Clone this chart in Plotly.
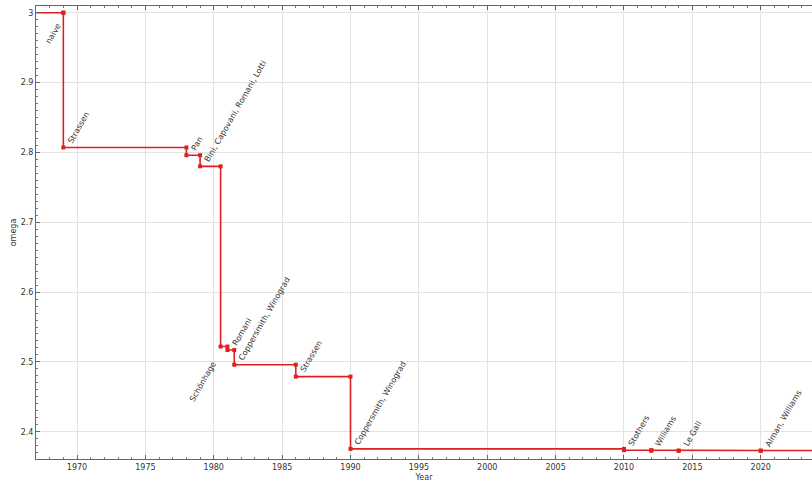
import plotly.graph_objects as go

# Best known upper bound on the matrix multiplication exponent, by year
authors = ["naive", "Strassen", "Pan", "Bini, Capovani, Romani, Lotti", "Schönhage",
           "Romani", "Coppersmith, Winograd", "Strassen", "Coppersmith, Winograd",
           "Stothers", "Williams", "Le Gall", "Alman, Williams"]
years = [1969, 1969, 1978, 1979, 1980.5, 1981, 1981.5, 1986, 1990, 2010, 2012, 2014, 2020]
omega = [3.0, 2.807, 2.796, 2.780, 2.522, 2.517, 2.496, 2.479, 2.3755, 2.3737,
         2.3729, 2.37286, 2.37286]

x_ticks = [1970, 1975, 1980, 1985, 1990, 1995, 2000, 2005, 2010, 2015, 2020]
y_ticks = [2.4, 2.5, 2.6, 2.7, 2.8, 2.9, 3.0]
y_ticklabels = ["2.4", "2.5", "2.6", "2.7", "2.8", "2.9", "3"]

X_RANGE = [1967, 2023.75]
Y_RANGE = [2.361, 3.0096]
RED = "#dd2020"

# step vertices: each improvement drops straight down from the previous bound
sx, sy = [years[0]], [omega[0]]
for i in range(1, len(years)):
    sx += [years[i], years[i]]
    sy += [omega[i - 1], omega[i]]

fig = go.Figure()
# flat extension of the curve to both plot edges
fig.add_trace(go.Scatter(
    x=[X_RANGE[0] - 5] + sx + [X_RANGE[1] + 5],
    y=[sy[0]] + sy + [sy[-1]],
    mode="lines", line=dict(color=RED, width=1.6), hoverinfo="skip"))
fig.add_trace(go.Scatter(
    x=sx, y=sy, mode="markers",
    marker=dict(color=RED, size=4, symbol="square"), hoverinfo="skip"))

ann_font = dict(family="DejaVu Sans", size=8, color="#333333")
for name, yr, om in zip(authors, years, omega):
    if name == "naive":
        fig.add_annotation(x=yr, y=om, text=name, showarrow=False, textangle=-60,
                           xanchor="right", yanchor="top", xshift=2, yshift=-6,
                           font=ann_font)
    elif name == "Schönhage":
        fig.add_annotation(x=yr, y=om, text=name, showarrow=False, textangle=-60,
                           xanchor="right", yanchor="top", xshift=0, yshift=-10,
                           font=ann_font)
    else:
        fig.add_annotation(x=yr, y=om, text=name, showarrow=False, textangle=-60,
                           xanchor="left", yanchor="bottom", xshift=0, yshift=0,
                           font=ann_font)

axis_common = dict(
    showline=True, linecolor="#666666", linewidth=1,
    showgrid=True, gridcolor="#e2e2e2", gridwidth=1,
    ticks="inside", ticklen=4, tickcolor="#666666", tickwidth=1,
    tickfont=dict(family="DejaVu Sans", size=8, color="#333333"),
    zeroline=False,
)

fig.update_xaxes(
    range=X_RANGE, tickvals=x_ticks, mirror="ticks",
    minor=dict(dtick=1, tick0=1970, ticks="inside", ticklen=2,
               tickcolor="#777777", showgrid=False),
    title=dict(text="Year", font=dict(family="DejaVu Sans", size=8, color="#333333"),
               standoff=6),
    **axis_common)
fig.update_yaxes(
    range=Y_RANGE, tickvals=y_ticks, ticktext=y_ticklabels,
    minor=dict(dtick=0.01, tick0=2.4, ticks="inside", ticklen=2,
               tickcolor="#777777", showgrid=False),
    title=dict(text="omega", font=dict(family="DejaVu Sans", size=8, color="#333333"),
               standoff=2),
    **axis_common)

fig.update_layout(
    width=812, height=482,
    margin=dict(l=36, r=0, t=6, b=23),
    paper_bgcolor="white", plot_bgcolor="white",
    showlegend=False,
)

fig.write_html("out.html")
